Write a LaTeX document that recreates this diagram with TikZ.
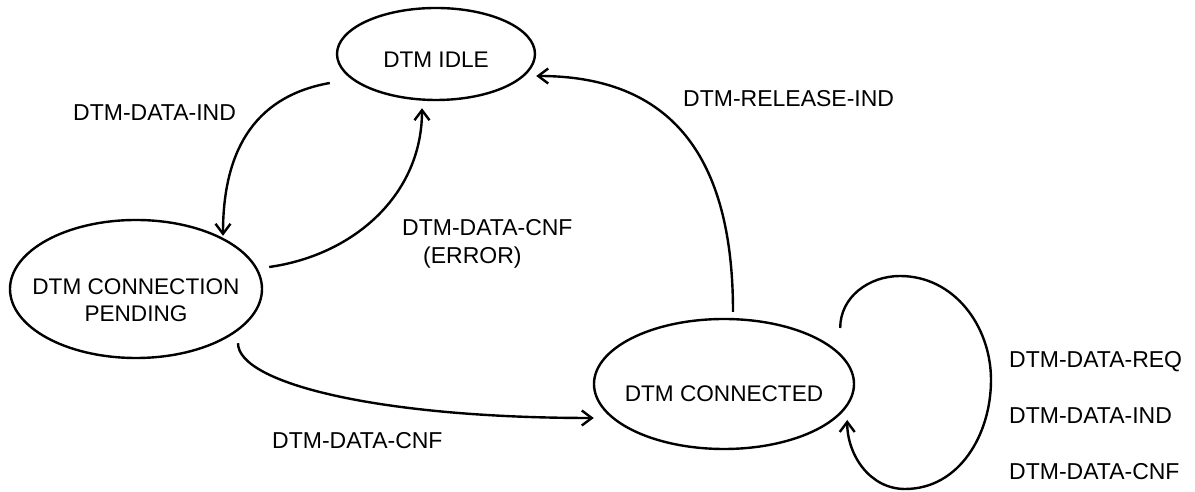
\documentclass[tikz,border=0pt]{standalone}
\usepackage{fontspec}
\setmainfont{Liberation Sans}
\usetikzlibrary{shapes.geometric, arrows.meta}

\tikzset{
  state/.style={draw, ellipse, line width=2.4pt, inner sep=0pt},
  trans/.style={line width=2.4pt, -{Straight Barb[length=10pt,width=15pt]}},
  evt/.style={inner sep=0pt, anchor=west},
}
\newcommand{\statetext}[2]{\raisebox{#1}[0pt][0pt]{\makebox[0pt]{#2}}}

\begin{document}
\begin{tikzpicture}[x=1pt, y=1pt, font=\fontsize{22.6}{27}\selectfont]
\useasboundingbox (0,0) rectangle (1195,492);

% states
\node[state, minimum width=198pt, minimum height=92pt] (idle) at (436,438)
  {\statetext{-14pt}{DTM IDLE}};
\node[state, minimum width=252pt, minimum height=138pt] (pend) at (136,203)
  {\statetext{-6pt}{\begin{tabular}[t]{@{}c@{}}DTM CONNECTION\\PENDING\end{tabular}}};
\node[state, minimum width=260pt, minimum height=130pt] (conn) at (724,108)
  {\statetext{-18pt}{DTM CONNECTED}};

% transitions
\draw[trans] ([shift={(-6,-29)}]idle.west) to[out=190, in=90, looseness=1.1] ([shift={(87,-17)}]pend.north);
\draw[trans] ([shift={(6,22)}]pend.east) to[out=8, in=-90] ([shift={(-14,-7)}]idle.south);
\draw[trans] ([shift={(9,6)}]conn.north) to[out=90, in=0, looseness=1.2] ([shift={(0,-22)}]idle.east);
\draw[trans] ([shift={(102,16)}]pend.south) .. controls +(0,-40) and +(-215,0) .. ([shift={(1,-34)}]conn.west);

% self loop on connected
\coordinate (looptop) at (900,216);
\coordinate (loopright) at (991,112);
\coordinate (loopbottom) at (905,3);
\draw[trans] ([shift={(-15,56)}]conn.east) to[out=90, in=180] (looptop)
  to[out=0, in=90] (loopright) to[out=-90, in=0] (loopbottom)
  to[out=180, in=-90] ([shift={(-8,-36)}]conn.east);

% events
\node[evt, font=\fontsize{23}{27}\selectfont] (lblind) at (73,379) {DTM-DATA-IND};
\node[evt, anchor=north west, align=left, font=\fontsize{23}{28}\selectfont] (lblerr) at (402,273)
  {DTM-DATA-CNF\\\hspace*{21pt}(ERROR)};
\node[evt, font=\fontsize{23}{27}\selectfont] (lblrel) at (683,393) {DTM-RELEASE-IND};
\node[evt, font=\fontsize{23}{27}\selectfont] (lblcnf) at (272,51) {DTM-DATA-CNF};
\node[evt, anchor=north west, align=left, font=\fontsize{23}{56}\selectfont] (lblloop) at (1009,141)
  {DTM-DATA-REQ\\DTM-DATA-IND\\DTM-DATA-CNF};
\end{tikzpicture}
\end{document}
